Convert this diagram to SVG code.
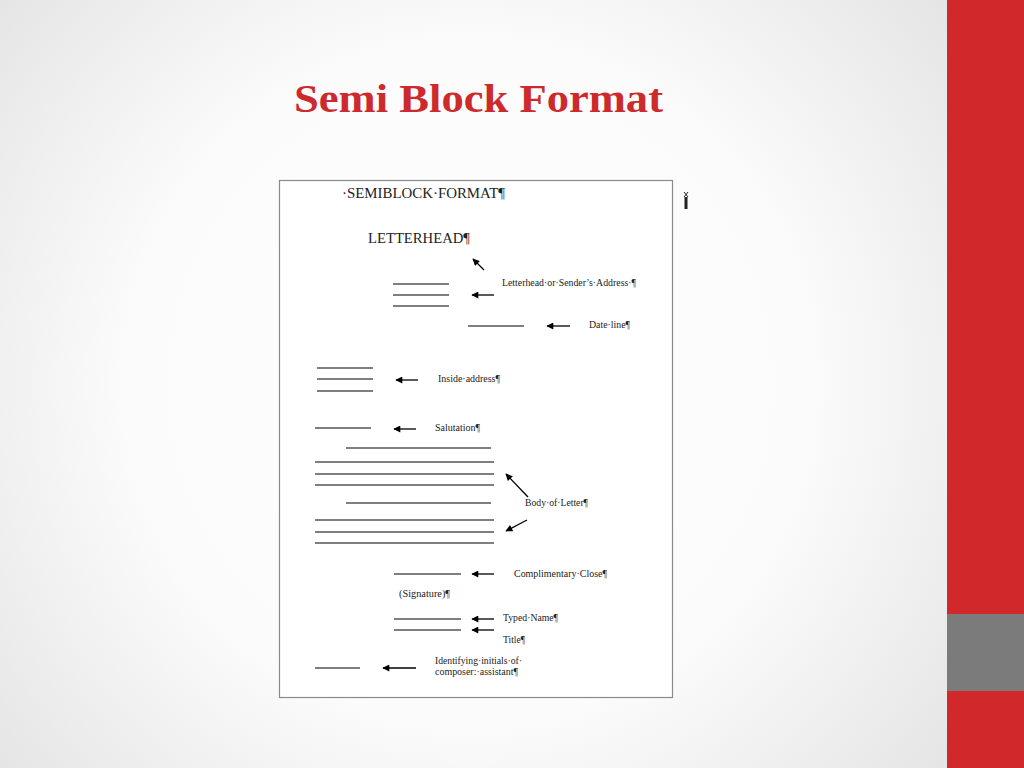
<svg xmlns="http://www.w3.org/2000/svg" width="1024" height="768" viewBox="0 0 1024 768">
<defs>
<radialGradient id="bg" cx="470" cy="384" r="620" gradientUnits="userSpaceOnUse">
<stop offset="0" stop-color="#ffffff"/>
<stop offset="0.55" stop-color="#fbfbfb"/>
<stop offset="1" stop-color="#e4e4e4"/>
</radialGradient>
<marker id="ah" viewBox="0 0 10 10" refX="9" refY="5" markerWidth="9" markerHeight="7" markerUnits="userSpaceOnUse" orient="auto">
<path d="M0,0 L10,5 L0,10 Z" fill="#000"/>
</marker>
<style>
.rule{stroke:#555;stroke-width:1.3;fill:none}
.arr{stroke:#000;stroke-width:1.3;fill:none;marker-end:url(#ah)}
.sm{font-family:"Liberation Serif","Times New Roman",serif;font-size:9.5px;fill:#222}
.big{font-family:"Liberation Serif","Times New Roman",serif;font-size:14px;fill:#222}
</style>
</defs>
<rect x="0" y="0" width="1024" height="768" fill="url(#bg)"/>
<rect x="947" y="0" width="77" height="768" fill="#d0282b"/>
<rect x="947" y="614" width="77" height="77" fill="#7b7b7b"/>
<text x="294" y="112" font-family="'Liberation Serif','Times New Roman',serif" font-weight="bold" font-size="41" fill="#cc2a2d" textLength="369" lengthAdjust="spacingAndGlyphs">Semi Block Format</text>

<g id="page">
<rect x="279.5" y="180.5" width="393" height="517" fill="#fff" stroke="#8a8a8a" stroke-width="1.2"/>
</g>
<g id="mark">
<line x1="686" y1="197" x2="686" y2="209" stroke="#222" stroke-width="3"/>
<path d="M684,192 L688,197 M688,192 L684,197" stroke="#222" stroke-width="1"/>
</g>
<g id="headings">
<text class="big" x="342" y="198" textLength="163" lengthAdjust="spacingAndGlyphs">·SEMIBLOCK·FORMAT¶</text>
<text class="big" x="368" y="243" textLength="102" lengthAdjust="spacingAndGlyphs">LETTERHEAD¶</text>
</g>
<g id="rules">
<line class="rule" x1="393" y1="284" x2="449" y2="284"/>
<line class="rule" x1="393" y1="295" x2="449" y2="295"/>
<line class="rule" x1="393" y1="306" x2="449" y2="306"/>
<line class="rule" x1="468" y1="326" x2="524" y2="326"/>
<line class="rule" x1="317" y1="368" x2="373" y2="368"/>
<line class="rule" x1="317" y1="379" x2="373" y2="379"/>
<line class="rule" x1="317" y1="391" x2="373" y2="391"/>
<line class="rule" x1="315" y1="428" x2="371" y2="428"/>
<line class="rule" x1="346" y1="448" x2="491" y2="448"/>
<line class="rule" x1="315" y1="462" x2="494" y2="462"/>
<line class="rule" x1="315" y1="474" x2="494" y2="474"/>
<line class="rule" x1="315" y1="485" x2="494" y2="485"/>
<line class="rule" x1="346" y1="503" x2="491" y2="503"/>
<line class="rule" x1="315" y1="520" x2="494" y2="520"/>
<line class="rule" x1="315" y1="532" x2="494" y2="532"/>
<line class="rule" x1="315" y1="543" x2="494" y2="543"/>
<line class="rule" x1="394" y1="574" x2="461" y2="574"/>
<line class="rule" x1="394" y1="619" x2="461" y2="619"/>
<line class="rule" x1="394" y1="630" x2="461" y2="630"/>
<line class="rule" x1="315" y1="668" x2="360" y2="668"/>
</g>
<g id="connectors">
<line class="arr" x1="484" y1="270" x2="473" y2="259"/>
<line class="arr" x1="494" y1="295" x2="472" y2="295"/>
<line class="arr" x1="570" y1="326" x2="547" y2="326"/>
<line class="arr" x1="418" y1="380" x2="396" y2="380"/>
<line class="arr" x1="416" y1="429" x2="394" y2="429"/>
<line class="arr" x1="528" y1="497" x2="506" y2="474"/>
<line class="arr" x1="527" y1="520" x2="506" y2="531"/>
<line class="arr" x1="494" y1="574" x2="472" y2="574"/>
<line class="arr" x1="494" y1="619" x2="472" y2="619"/>
<line class="arr" x1="494" y1="630" x2="472" y2="630"/>
<line class="arr" x1="416" y1="668" x2="383" y2="668"/>
</g>
<g id="labels">
<text class="sm" x="502" y="286" textLength="134" lengthAdjust="spacingAndGlyphs">Letterhead·or·Sender’s·Address·¶</text>
<text class="sm" x="589" y="328" textLength="41" lengthAdjust="spacingAndGlyphs">Date·line¶</text>
<text class="sm" x="438" y="382" textLength="62" lengthAdjust="spacingAndGlyphs">Inside·address¶</text>
<text class="sm" x="435" y="431" textLength="45" lengthAdjust="spacingAndGlyphs">Salutation¶</text>
<text class="sm" x="525" y="506" textLength="63" lengthAdjust="spacingAndGlyphs">Body·of·Letter¶</text>
<text class="sm" x="514" y="577" textLength="93" lengthAdjust="spacingAndGlyphs">Complimentary·Close¶</text>
<text class="sm" x="399" y="597" textLength="51" lengthAdjust="spacingAndGlyphs">(Signature)¶</text>
<text class="sm" x="503" y="621" textLength="55" lengthAdjust="spacingAndGlyphs">Typed·Name¶</text>
<text class="sm" x="503" y="643" textLength="22" lengthAdjust="spacingAndGlyphs">Title¶</text>
<text class="sm" x="435" y="664" textLength="87" lengthAdjust="spacingAndGlyphs">Identifying·initials·of·</text>
<text class="sm" x="435" y="675" textLength="83" lengthAdjust="spacingAndGlyphs">composer:·assistant¶</text>
</g>
</svg>
